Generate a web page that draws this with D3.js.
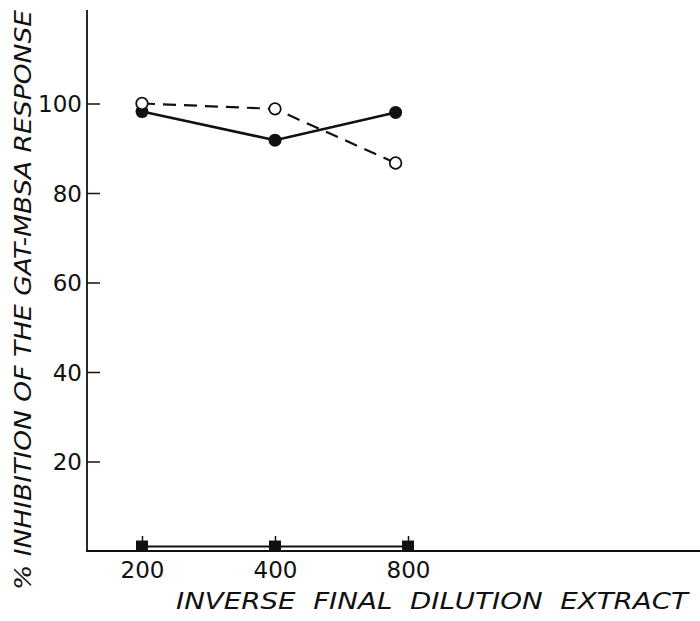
<!DOCTYPE html>
<html>
<head>
<meta charset="utf-8">
<script src="https://cdn.jsdelivr.net/npm/d3@7"></script>
<style>
  html, body { margin: 0; padding: 0; background: #fff; }
  svg { display: block; }
  .tick text { font-family: "DejaVu Sans", sans-serif; font-size: 23px; fill: #111; }
  .title { font-family: "DejaVu Sans", sans-serif; font-style: italic; font-size: 23px; fill: #111; white-space: pre; }
</style>
</head>
<body>
<div id="chart"></div>
<script>
// ---- data
const xTicks   = [200, 400, 800];
const yTicks   = [20, 40, 60, 80, 100];

const openX    = [200, 400, 750];     // open circles, dashed
const openY    = [100, 98.8, 86.7];
const filledX  = [200, 400, 750];     // filled circles, solid
const filledY  = [98.2, 91.8, 98];
const squareX  = [200, 400, 800];     // filled squares, double line
const squareY  = [1, 1, 1];

const X_LABEL = 'INVERSE  FINAL  DILUTION  EXTRACT';
const Y_LABEL = '% INHIBITION OF THE GAT-MBSA RESPONSE';

// ---- layout
const W = 700, H = 621;
const axisX = 87, axisY = 551, axisTop = 10;

const svg = d3.select('#chart').append('svg')
  .attr('width', W).attr('height', H);

const x = d3.scaleLog().domain([200, 800]).range([142, 408]);
const y = d3.scaleLinear().domain([0, 120]).range([axisY, 14]);

const zip = (xs, ys) => xs.map((v, i) => [v, ys[i]]);

// axis lines
svg.append('line')
  .attr('x1', axisX).attr('x2', axisX).attr('y1', axisTop).attr('y2', axisY + 1)
  .attr('stroke', '#111').attr('stroke-width', 1.8);
svg.append('line')
  .attr('x1', axisX - 1).attr('x2', W).attr('y1', axisY).attr('y2', axisY)
  .attr('stroke', '#111').attr('stroke-width', 1.8);

// y axis (ticks inward)
const gy = svg.append('g')
  .attr('transform', `translate(${axisX},0)`)
  .call(d3.axisLeft(y).tickValues(yTicks).tickSize(-13).tickPadding(5));
gy.select('.domain').remove();
gy.selectAll('.tick line').attr('stroke', '#111').attr('stroke-width', 1.5);
gy.selectAll('.tick text').attr('dy', '0.36em');

// x axis (ticks inward)
const gx = svg.append('g')
  .attr('transform', `translate(0,${axisY})`)
  .call(d3.axisBottom(x).tickValues(xTicks).tickFormat(d3.format('d')).tickSize(-15).tickPadding(11));
gx.select('.domain').remove();
gx.selectAll('.tick line').attr('stroke', '#111').attr('stroke-width', 1.5);

const line = d3.line().x(d => x(d[0])).y(d => y(d[1]));

// squares series: double line
const sq = zip(squareX, squareY);
svg.append('path').attr('d', line(sq))
  .attr('fill', 'none').attr('stroke', '#111').attr('stroke-width', 2);
svg.selectAll('rect.sq').data(sq).join('rect')
  .attr('class', 'sq')
  .attr('x', d => x(d[0]) - 6).attr('y', d => y(d[1]) - 6)
  .attr('width', 12).attr('height', 11)
  .attr('fill', '#111');

// filled circles: solid line
const fc = zip(filledX, filledY);
svg.append('path').attr('d', line(fc))
  .attr('fill', 'none').attr('stroke', '#111').attr('stroke-width', 2.6);

// open circles: dashed line
const oc = zip(openX, openY);
svg.append('path').attr('d', line(oc))
  .attr('fill', 'none').attr('stroke', '#111').attr('stroke-width', 2.2)
  .attr('stroke-dasharray', '13,8');

svg.selectAll('circle.fc').data(fc).join('circle')
  .attr('class', 'fc')
  .attr('cx', d => x(d[0])).attr('cy', d => y(d[1])).attr('r', 6.5)
  .attr('fill', '#111');

svg.selectAll('circle.oc').data(oc).join('circle')
  .attr('class', 'oc')
  .attr('cx', d => x(d[0])).attr('cy', d => y(d[1])).attr('r', 5.8)
  .attr('fill', '#fff').attr('stroke', '#111').attr('stroke-width', 1.8);

// titles
svg.append('text').attr('class', 'title')
  .attr('x', 176).attr('y', 609)
  .attr('textLength', 512).attr('lengthAdjust', 'spacingAndGlyphs')
  .text(X_LABEL);

svg.append('text').attr('class', 'title')
  .attr('transform', 'translate(31,300) rotate(-90)')
  .attr('text-anchor', 'middle')
  .attr('textLength', 580).attr('lengthAdjust', 'spacingAndGlyphs')
  .text(Y_LABEL);
</script>
</body>
</html>
